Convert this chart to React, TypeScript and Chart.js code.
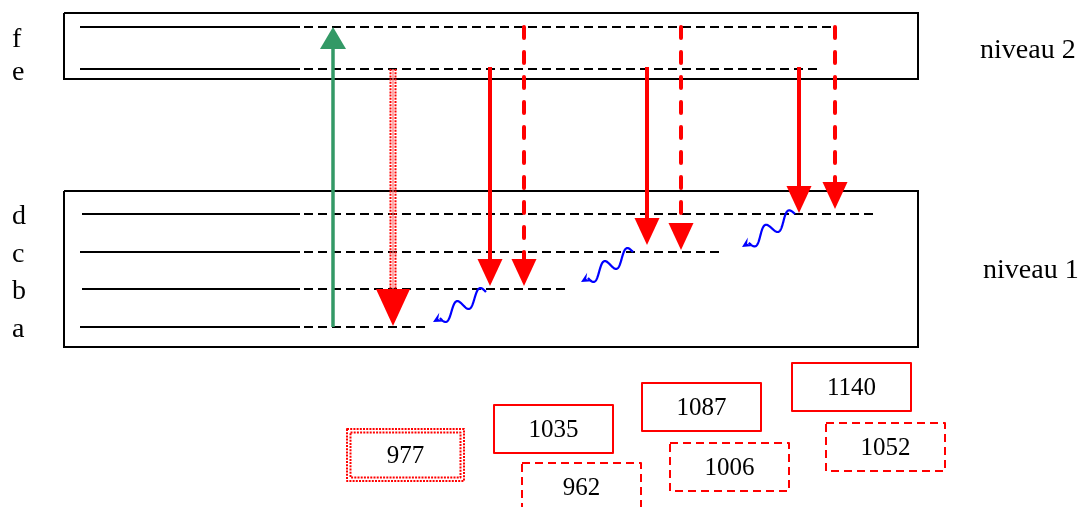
import React, { useEffect, useRef } from 'react';
import { Chart, registerables } from 'chart.js';

Chart.register(...registerables);

const W = 1091;
const H = 507;

// Energy levels (diagram units: x to the right, y downwards)
const levelNames = ['f', 'e', 'd', 'c', 'b', 'a'];
const levelY = [27, 69, 214, 252, 289, 327];
const levelSolidFrom = [80, 80, 82, 80, 82, 80];
const levelSolidTo = [300, 300, 300, 300, 300, 300];
const levelDashTo = [833, 817, 873, 722, 567, 425];
const levelLabelBaseline = [47, 80, 224, 262, 299, 337];

// Groups of levels (frames)
const groupNames = ['niveau 2', 'niveau 1'];
const groupTop = [13, 191];
const groupBottom = [79, 347];
const groupLeft = [64, 64];
const groupRight = [918, 918];
const groupLabelX = [980, 983];
const groupLabelBaseline = [58, 278];

// Pump transition (green, a -> f)
const pumpX = 333;
const pumpFrom = 'a';
const pumpTo = 'f';

// Emission transitions (red)
const emissionValues = ['977', '1035', '962', '1087', '1006', '1140', '1052'];
const emissionStyle = ['dotted', 'solid', 'dashed', 'solid', 'dashed', 'solid', 'dashed'];
const emissionX = [393, 490, 524, 647, 681, 799, 835];
const emissionFrom = ['e', 'e', 'f', 'e', 'f', 'e', 'f'];
const emissionTipY = [326, 286, 286, 245, 250, 213, 209];

// Non-radiative relaxations (blue wavy arrows)
const relaxFromX = [486, 633, 795];
const relaxFromY = [292, 252, 214];
const relaxToX = [433, 581, 742];
const relaxToY = [322, 282, 247];

// Wavelength label boxes (nm)
const boxX0 = [346, 494, 522, 642, 670, 792, 826];
const boxX1 = [465, 613, 641, 761, 789, 911, 945];
const boxY0 = [428, 405, 463, 383, 443, 363, 423];
const boxY1 = [482, 453, 511, 431, 491, 411, 471];

const RED = '#ff0000';
const GREEN = '#339966';
const BLUE = '#0000ff';
const SERIF = '"Liberation Serif", "Times New Roman", Times, serif';

const yOf = (name: string) => levelY[levelNames.indexOf(name)];

function headLen(style: string) {
  return style === 'dotted' ? 37 : 27;
}
function headWidth(style: string) {
  return style === 'dotted' ? 34 : 25;
}

function buildDatasets() {
  const ds: any[] = [];
  // frames
  groupNames.forEach((_, i) => {
    ds.push({
      data: [
        { x: groupLeft[i], y: groupTop[i] },
        { x: groupRight[i], y: groupTop[i] },
        { x: groupRight[i], y: groupBottom[i] },
        { x: groupLeft[i], y: groupBottom[i] },
        { x: groupLeft[i], y: groupTop[i] },
      ],
      borderColor: '#000',
      borderWidth: 2,
      borderJoinStyle: 'miter',
      order: 20,
    });
  });
  // levels
  levelNames.forEach((_, i) => {
    ds.push({
      data: [
        { x: levelSolidFrom[i], y: levelY[i] },
        { x: levelSolidTo[i], y: levelY[i] },
      ],
      borderColor: '#000',
      borderWidth: 2,
      order: 10,
    });
    ds.push({
      data: [
        { x: levelSolidTo[i], y: levelY[i] },
        { x: levelDashTo[i], y: levelY[i] },
      ],
      borderColor: '#000',
      borderWidth: 2,
      borderDash: [9, 5],
      borderDashOffset: -4,
      order: 10,
    });
  });
  // pump shaft
  ds.push({
    data: [
      { x: pumpX, y: yOf(pumpFrom) },
      { x: pumpX, y: yOf(pumpTo) + 20 },
    ],
    borderColor: GREEN,
    borderWidth: 3.5,
    order: 1,
  });
  // emission shafts
  emissionX.forEach((x, i) => {
    const st = emissionStyle[i];
    const y0 = yOf(emissionFrom[i]) - (st === 'solid' ? 2 : 0);
    const y1 = emissionTipY[i] - headLen(st) + 2;
    if (st === 'dotted') {
      [-2.5, 2.5].forEach((off) => {
        ds.push({
          data: [
            { x: x + off, y: y0 },
            { x: x + off, y: y1 },
          ],
          borderColor: RED,
          borderWidth: 2,
          borderDash: [2, 1.2],
          order: 1,
        });
      });
      ds.push({
        data: [
          { x, y: y0 },
          { x, y: y1 },
        ],
        borderColor: 'rgba(255,120,120,0.6)',
        borderWidth: 1,
        order: 2,
      });
    } else {
      ds.push({
        data: [
          { x, y: y0 },
          { x, y: y1 },
        ],
        borderColor: RED,
        borderWidth: 4,
        borderDash: st === 'dashed' ? [11, 14] : [],
        borderCapStyle: st === 'dashed' ? 'round' : 'butt',
        order: 1,
      });
    }
  });
  return ds.map((d) => ({
    showLine: true,
    pointRadius: 0,
    pointHoverRadius: 0,
    fill: false,
    tension: 0,
    ...d,
  }));
}

const diagramPlugin = {
  id: 'diagram',
  afterDatasetsDraw(chart: any) {
    const ctx: CanvasRenderingContext2D = chart.ctx;
    const xs = chart.scales.x;
    const ys = chart.scales.y;
    const px = (v: number) => xs.getPixelForValue(v);
    const py = (v: number) => ys.getPixelForValue(v);

    const tri = (x: number, tip: number, w: number, len: number, up: boolean, color: string) => {
      ctx.beginPath();
      ctx.moveTo(px(x), py(tip));
      const base = up ? tip + len : tip - len;
      ctx.lineTo(px(x - w / 2), py(base));
      ctx.lineTo(px(x + w / 2), py(base));
      ctx.closePath();
      ctx.fillStyle = color;
      ctx.fill();
    };

    ctx.save();
    // pump head
    tri(pumpX, yOf(pumpTo), 26, 22, true, GREEN);
    // emission heads
    emissionX.forEach((x, i) => {
      const st = emissionStyle[i];
      tri(x, emissionTipY[i], headWidth(st), headLen(st), false, RED);
    });

    // wavy relaxations
    relaxFromX.forEach((_, i) => {
      const x0 = px(relaxFromX[i]);
      const y0 = py(relaxFromY[i]);
      const x1 = px(relaxToX[i]);
      const y1 = py(relaxToY[i]);
      const L = Math.hypot(x1 - x0, y1 - y0);
      const dx = (x1 - x0) / L;
      const dy = (y1 - y0) / L;
      const nx = -dy;
      const ny = dx;
      const aLen = 10;
      const wl = L - aLen + 2;
      ctx.beginPath();
      for (let k = 0; k <= 160; k++) {
        const s = k / 160;
        const ph = 2 * Math.PI * 2 * s;
        // slightly looped (prolate) wave
        const t = s * wl - 2.5 * Math.sin(ph);
        const a = 6.5 * Math.sin(ph);
        const X = x0 + dx * t + nx * a;
        const Y = y0 + dy * t + ny * a;
        if (k === 0) ctx.moveTo(X, Y);
        else ctx.lineTo(X, Y);
      }
      ctx.strokeStyle = BLUE;
      ctx.lineWidth = 2.2;
      ctx.lineJoin = 'round';
      ctx.stroke();
      ctx.beginPath();
      ctx.moveTo(x1, y1);
      ctx.lineTo(x1 - dx * aLen + nx * 5, y1 - dy * aLen + ny * 5);
      ctx.lineTo(x1 - dx * aLen * 0.6, y1 - dy * aLen * 0.6);
      ctx.lineTo(x1 - dx * aLen - nx * 5, y1 - dy * aLen - ny * 5);
      ctx.closePath();
      ctx.fillStyle = BLUE;
      ctx.fill();
    });

    // label boxes
    emissionValues.forEach((v, i) => {
      const st = emissionStyle[i];
      const x0 = px(boxX0[i]);
      const x1 = px(boxX1[i]);
      const y0 = py(boxY0[i]);
      const y1 = py(boxY1[i]);
      ctx.strokeStyle = RED;
      if (st === 'dotted') {
        ctx.lineWidth = 2;
        ctx.setLineDash([2, 1.2]);
        ctx.strokeRect(x0 + 1, y0 + 1, x1 - x0 - 2, y1 - y0 - 2);
        ctx.strokeRect(x0 + 4.5, y0 + 4.5, x1 - x0 - 9, y1 - y0 - 9);
      } else {
        ctx.lineWidth = 2;
        ctx.setLineDash(st === 'dashed' ? [8, 5] : []);
        ctx.strokeRect(x0, y0, x1 - x0, y1 - y0);
      }
      ctx.setLineDash([]);
      ctx.fillStyle = '#000';
      ctx.font = `25px ${SERIF}`;
      ctx.textAlign = 'center';
      ctx.textBaseline = 'middle';
      ctx.fillText(v, (x0 + x1) / 2, (y0 + y1) / 2 + 1);
    });

    // level letters
    ctx.textAlign = 'left';
    ctx.textBaseline = 'alphabetic';
    ctx.fillStyle = '#000';
    ctx.font = `28px ${SERIF}`;
    levelNames.forEach((n, i) => {
      ctx.fillText(n, px(12), py(levelLabelBaseline[i]));
    });
    // group names
    groupNames.forEach((n, i) => {
      ctx.fillText(n, px(groupLabelX[i]), py(groupLabelBaseline[i]));
    });
    ctx.restore();
  },
};

export default function App() {
  const ref = useRef<HTMLCanvasElement | null>(null);
  useEffect(() => {
    document.body.style.margin = '0';
    if (!ref.current) return;
    const chart = new Chart(ref.current, {
      type: 'scatter',
      data: { datasets: buildDatasets() },
      options: {
        animation: false,
        responsive: false,
        devicePixelRatio: 1,
        events: [],
        layout: { padding: 0 },
        plugins: { legend: { display: false }, tooltip: { enabled: false } },
        scales: {
          x: { type: 'linear', min: 0, max: W, display: false },
          y: { type: 'linear', min: 0, max: H, reverse: true, display: false },
        },
      },
      plugins: [diagramPlugin],
    });
    return () => chart.destroy();
  }, []);
  return (
    <div style={{ position: 'absolute', left: 0, top: 0, width: W, height: H, background: '#fff' }}>
      <canvas ref={ref} width={W} height={H} style={{ display: 'block' }} />
    </div>
  );
}
